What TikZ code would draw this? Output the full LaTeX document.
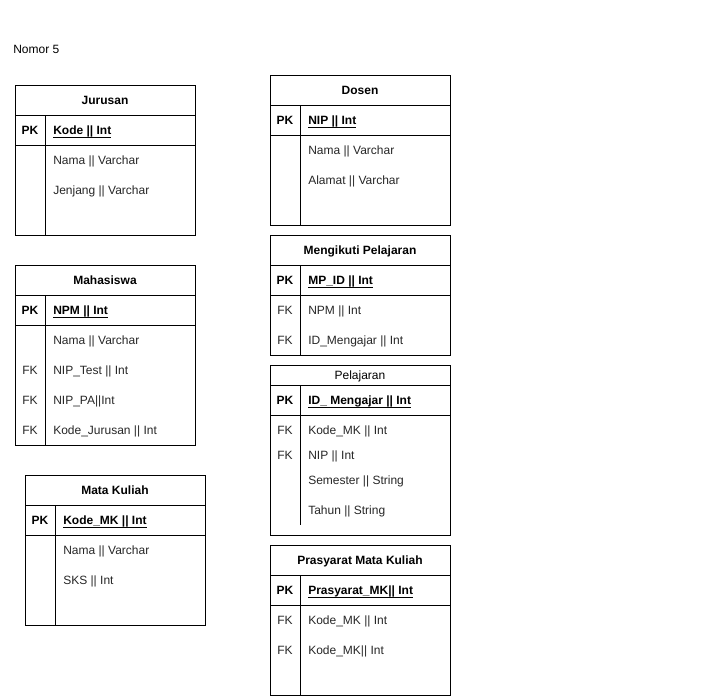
\documentclass[tikz,border=0pt]{standalone}
\usepackage{fontspec}
\setmainfont{Liberation Sans}
\newcommand\keyul[1]{\setbox0\hbox{#1}\rlap{\rule[-2.6pt]{\wd0}{0.6pt}}\box0}
\begin{document}
\begin{tikzpicture}[x=0.75pt,y=-0.75pt,
  every node/.style={inner sep=0pt, font=\fontsize{9}{11}\selectfont},
  box/.style={draw=black, line width=0.75pt},
  ttl/.style={anchor=base, font=\fontsize{9}{11}\selectfont\bfseries},
  pkc/.style={anchor=base, font=\fontsize{9}{11}\selectfont\bfseries},
  keyf/.style={anchor=base west, font=\fontsize{9}{11}\selectfont\bfseries},
  fld/.style={anchor=base west, text=black!85},
  fkc/.style={anchor=base, text=black!85}]
\useasboundingbox (0,0) rectangle (715,696);

\node[anchor=base west] (nomor) at (13,53.5) {Nomor 5};

% Jurusan
\draw[box] (15,85) rectangle (195,235);
\draw[box] (15,115) -- (195,115) (15,145) -- (195,145) (45,115) -- (45,235);
\node[ttl] (jur) at (105,104.5) {Jurusan};
\node[pkc] (jurpk) at (30,134.5) {PK};
\node[keyf] (jurkey) at (53,134.5) {\keyul{Kode || Int}};
\node[fld] (jur1) at (53,164.5) {Nama || Varchar};
\node[fld] (jur2) at (53,194.5) {Jenjang || Varchar};

% Mahasiswa
\draw[box] (15,265) rectangle (195,445);
\draw[box] (15,295) -- (195,295) (15,325) -- (195,325) (45,295) -- (45,445);
\node[ttl] (mhs) at (105,284.5) {Mahasiswa};
\node[pkc] (mhspk) at (30,314.5) {PK};
\node[keyf] (mhskey) at (53,314.5) {\keyul{NPM || Int}};
\node[fld] (mhs1) at (53,344.5) {Nama || Varchar};
\node[fkc] (mhsfk2) at (30,374.5) {FK};
\node[fld] (mhs2) at (53,374.5) {NIP\_Test || Int};
\node[fkc] (mhsfk3) at (30,404.5) {FK};
\node[fld] (mhs3) at (53,404.5) {NIP\_PA||Int};
\node[fkc] (mhsfk4) at (30,434.5) {FK};
\node[fld] (mhs4) at (53,434.5) {Kode\_Jurusan || Int};

% Mata Kuliah
\draw[box] (25,475) rectangle (205,625);
\draw[box] (25,505) -- (205,505) (25,535) -- (205,535) (55,505) -- (55,625);
\node[ttl] (mk) at (115,494.5) {Mata Kuliah};
\node[pkc] (mkpk) at (40,524.5) {PK};
\node[keyf] (mkkey) at (63,524.5) {\keyul{Kode\_MK || Int}};
\node[fld] (mk1) at (63,554.5) {Nama || Varchar};
\node[fld] (mk2) at (63,584.5) {SKS || Int};

% Dosen
\draw[box] (270,75) rectangle (450,225);
\draw[box] (270,105) -- (450,105) (270,135) -- (450,135) (300,105) -- (300,225);
\node[ttl] (dsn) at (360,94.5) {Dosen};
\node[pkc] (dsnpk) at (285,124.5) {PK};
\node[keyf] (dsnkey) at (308,124.5) {\keyul{NIP || Int}};
\node[fld] (dsn1) at (308,154.5) {Nama || Varchar};
\node[fld] (dsn2) at (308,184.5) {Alamat || Varchar};

% Mengikuti Pelajaran
\draw[box] (270,235) rectangle (450,355);
\draw[box] (270,265) -- (450,265) (270,295) -- (450,295) (300,265) -- (300,355);
\node[ttl] (mp) at (360,254.5) {Mengikuti Pelajaran};
\node[pkc] (mppk) at (285,284.5) {PK};
\node[keyf] (mpkey) at (308,284.5) {\keyul{MP\_ID || Int}};
\node[fkc] (mpfk1) at (285,314.5) {FK};
\node[fld] (mp1) at (308,314.5) {NPM || Int};
\node[fkc] (mpfk2) at (285,344.5) {FK};
\node[fld] (mp2) at (308,344.5) {ID\_Mengajar || Int};

% Pelajaran
\draw[box] (270,365) rectangle (450,535);
\draw[box] (270,385) -- (450,385) (270,415) -- (450,415) (300,385) -- (300,525);
\node[ttl,font=\fontsize{9}{11}\selectfont] (pel) at (360,379.5) {Pelajaran};
\node[pkc] (pelpk) at (285,404.5) {PK};
\node[keyf] (pelkey) at (308,404.5) {\keyul{ID\_ Mengajar || Int}};
\node[fkc] (pelfk1) at (285,434.5) {FK};
\node[fld] (pel1) at (308,434.5) {Kode\_MK || Int};
\node[fkc] (pelfk2) at (285,459.5) {FK};
\node[fld] (pel2) at (308,459.5) {NIP || Int};
\node[fld] (pel3) at (308,484.5) {Semester || String};
\node[fld] (pel4) at (308,514.5) {Tahun || String};

% Prasyarat Mata Kuliah
\draw[box] (270,545) rectangle (450,695);
\draw[box] (270,575) -- (450,575) (270,605) -- (450,605) (300,575) -- (300,695);
\node[ttl] (pmk) at (360,564.5) {Prasyarat Mata Kuliah};
\node[pkc] (pmkpk) at (285,594.5) {PK};
\node[keyf] (pmkkey) at (308,594.5) {\keyul{Prasyarat\_MK|| Int}};
\node[fkc] (pmkfk1) at (285,624.5) {FK};
\node[fld] (pmk1) at (308,624.5) {Kode\_MK || Int};
\node[fkc] (pmkfk2) at (285,654.5) {FK};
\node[fld] (pmk2) at (308,654.5) {Kode\_MK|| Int};
\end{tikzpicture}
\end{document}
